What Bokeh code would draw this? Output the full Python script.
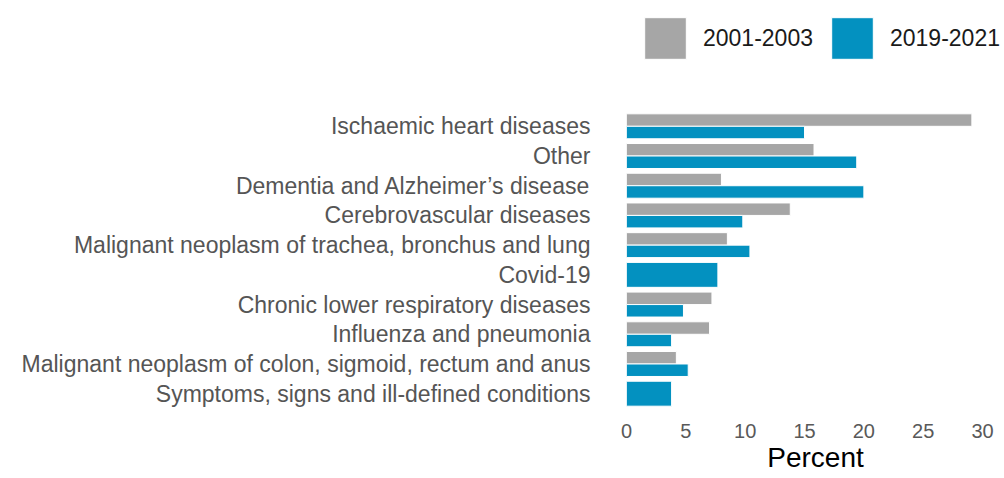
from bokeh.plotting import figure
from bokeh.layouts import column
from bokeh.models import (ColumnDataSource, FactorRange, Range1d, FixedTicker,
                          Legend, LegendItem)
from bokeh.transform import dodge
from bokeh.embed import file_html
from bokeh.resources import INLINE

categories = [
    "Ischaemic heart diseases",
    "Other",
    "Dementia and Alzheimer\u2019s disease",
    "Cerebrovascular diseases",
    "Malignant neoplasm of trachea, bronchus and lung",
    "Covid-19",
    "Chronic lower respiratory diseases",
    "Influenza and pneumonia",
    "Malignant neoplasm of colon, sigmoid, rectum and anus",
    "Symptoms, signs and ill-defined conditions",
]
series_names = ["2001-2003", "2019-2021"]
values_2001_2003 = [29.1, 15.8, 8.0, 13.8, 8.5, None, 7.2, 7.0, 4.2, None]
values_2019_2021 = [15.0, 19.4, 20.0, 9.8, 10.4, 7.7, 4.8, 3.8, 5.2, 3.8]
x_ticks = [0, 5, 10, 15, 20, 25, 30]

GRAY = "#a6a6a6"
BLUE = "#0391c0"
FONT = "Liberation Sans"

paired_idx = [i for i, g in enumerate(values_2001_2003) if g is not None]
single_idx = [i for i, g in enumerate(values_2001_2003) if g is None]

paired = ColumnDataSource(dict(
    cat=[categories[i] for i in paired_idx],
    old=[values_2001_2003[i] for i in paired_idx],
    new=[values_2019_2021[i] for i in paired_idx],
))
single = ColumnDataSource(dict(
    cat=[categories[i] for i in single_idx],
    new=[values_2019_2021[i] for i in single_idx],
))

# ---- legend strip (top); its frame is aligned with the chart's frame ----
leg = figure(width=1004, height=105, output_backend="svg", toolbar_location=None,
             x_range=Range1d(0, 1), y_range=Range1d(0, 1),
             min_border_left=626, min_border_right=0,
             min_border_top=0, min_border_bottom=0,
             x_axis_type=None, y_axis_type=None)
leg.outline_line_color = None
leg.xgrid.visible = False
leg.ygrid.visible = False
# key-only renderers: a zero-length bar lying outside the strip's range
key_src = ColumnDataSource(dict(y=[-1.0], right=[0.0]))
d_old = leg.hbar(y="y", right="right", left=0, height=0.1, source=key_src,
                 fill_color=GRAY, line_color="white", line_width=1)
d_new = leg.hbar(y="y", right="right", left=0, height=0.1, source=key_src,
                 fill_color=BLUE, line_color="white", line_width=1)
legend = Legend(items=[LegendItem(label=series_names[0], renderers=[d_old]),
                       LegendItem(label=series_names[1], renderers=[d_new])],
                location=(13, 41), orientation="horizontal",
                glyph_width=52, glyph_height=52, label_standoff=12, spacing=13,
                padding=0, margin=0, border_line_color=None,
                background_fill_alpha=0,
                label_text_font=FONT, label_text_font_size="23px",
                label_text_color="#1a1a1a", label_text_baseline="middle")
leg.add_layout(legend, "center")

# ---- main chart ----
p = figure(width=1004, height=373, output_backend="svg", toolbar_location=None,
           y_range=FactorRange(factors=list(reversed(categories)),
                               range_padding=0.2, range_padding_units="absolute"),
           x_range=Range1d(0, 31.85),
           min_border_left=626, min_border_right=0,
           min_border_top=0, min_border_bottom=64)
p.outline_line_color = None
p.background_fill_color = "white"
p.border_fill_color = "white"

p.hbar(y=dodge("cat", 0.21, range=p.y_range), right="old", left=0,
       height=0.42, source=paired, fill_color=GRAY, line_color="white",
       line_width=1)
p.hbar(y=dodge("cat", -0.21, range=p.y_range), right="new", left=0,
       height=0.42, source=paired, fill_color=BLUE, line_color="white",
       line_width=1)
p.hbar(y="cat", right="new", left=0, height=0.84, source=single,
       fill_color=BLUE, line_color="white", line_width=1)

p.xgrid.visible = False
p.ygrid.visible = False

xa = p.xaxis[0]
xa.ticker = FixedTicker(ticks=x_ticks)
xa.axis_line_color = None
xa.major_tick_line_color = None
xa.minor_tick_line_color = None
xa.major_tick_out = 0
xa.major_label_text_font = FONT
xa.major_label_text_font_size = "20px"
xa.major_label_text_color = "#595959"
xa.major_label_standoff = 9
xa.axis_label = "Percent"
xa.axis_label_text_font = FONT
xa.axis_label_text_font_size = "28px"
xa.axis_label_text_font_style = "normal"
xa.axis_label_text_color = "black"
xa.axis_label_standoff = 1

ya = p.yaxis[0]
ya.axis_line_color = None
ya.major_tick_line_color = None
ya.minor_tick_line_color = None
ya.major_tick_out = 0
ya.major_label_text_font = FONT
ya.major_label_text_font_size = "23px"
ya.major_label_text_color = "#555555"
ya.major_label_standoff = 36

layout = column(leg, p, spacing=0)
open("out.html", "w").write(file_html(layout, INLINE))
